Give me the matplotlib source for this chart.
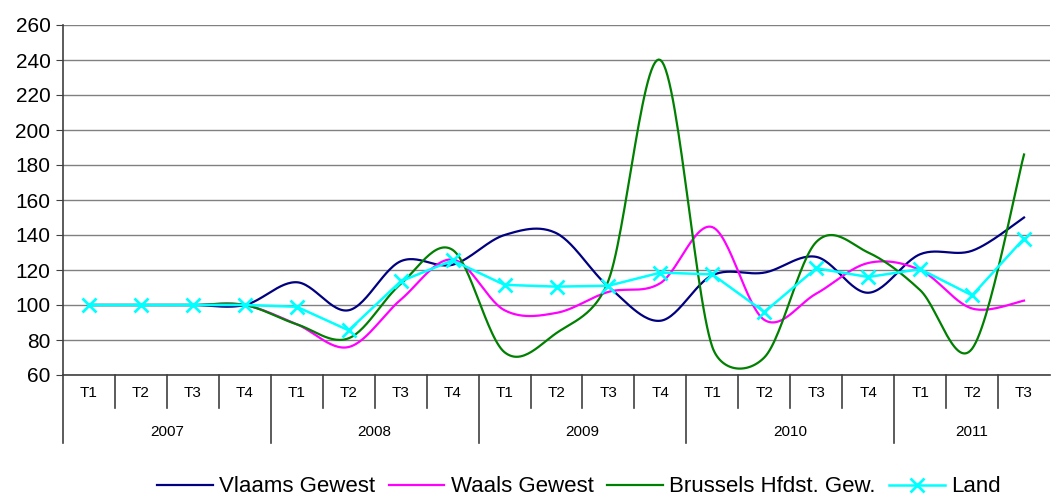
import numpy as np
import matplotlib
matplotlib.use("Agg")
import matplotlib.pyplot as plt
import matplotlib.transforms as mtransforms

plt.rcParams['font.family'] = ['Liberation Sans', 'DejaVu Sans']

years = ['2007', '2008', '2009', '2010', '2011']
quarters = ['T1', 'T2', 'T3', 'T4'] * 4 + ['T1', 'T2', 'T3']

vlaams = [100, 100, 100, 100, 113, 97, 125, 123, 140, 141, 110.5, 91,
          117, 118.5, 127.5, 107, 129, 131, 150]
waals = [100, 100, 100, 100, 89, 76, 103, 126, 97, 95.5, 107.5, 112.5,
         144.5, 91.5, 106.5, 124, 120, 98, 102.5]
brussel = [100, 100, 100, 100, 89, 81, 112, 131.5, 73, 84, 114, 240,
           76, 70, 136, 130, 108.5, 75, 186]
land = [100, 100, 100, 100, 99, 85.5, 113.5, 125.5, 111.5, 110.5, 111, 118.5,
        117.5, 96, 121, 116, 120.5, 105.5, 138]

# pixels per eenheid op het scherm (voor de afvlakking)
SX, SY = 52.0, 1.75


def smooth(y, n=30):
    # excel-achtige afgevlakte lijn: Bezier met begrensde raaklijnen
    x = np.arange(len(y), dtype=float) * SX
    y = np.asarray(y, dtype=float) * SY
    pts = np.column_stack([x, y])
    out = []
    t = np.linspace(0, 1, n)[:, None]
    for i in range(len(pts) - 1):
        p0 = pts[max(i - 1, 0)]
        p1 = pts[i]
        p2 = pts[i + 1]
        p3 = pts[min(i + 2, len(pts) - 1)]
        half = np.linalg.norm(p2 - p1) / 2
        v = (p2 - p0) / 6
        w = (p3 - p1) / 6
        if np.linalg.norm(v) > half:
            v = v / np.linalg.norm(v) * half
        if np.linalg.norm(w) > half:
            w = w / np.linalg.norm(w) * half
        c1 = p1 + v
        c2 = p2 - w
        seg = ((1 - t) ** 3 * p1 + 3 * (1 - t) ** 2 * t * c1
               + 3 * (1 - t) * t ** 2 * c2 + t ** 3 * p2)
        out.append(seg if i == 0 else seg[1:])
    out = np.vstack(out)
    return out[:, 0] / SX, out[:, 1] / SY


fig = plt.figure(figsize=(10.56, 4.97), dpi=100)
ax = fig.add_axes([63 / 1056, 1 - 375 / 497, (1050 - 63) / 1056, 350 / 497])

ax.plot(*smooth(vlaams), color='#000080', lw=1.6, label='Vlaams Gewest')
ax.plot(*smooth(waals), color='#FF00FF', lw=1.6, label='Waals Gewest')
ax.plot(*smooth(brussel), color='#008000', lw=1.6, label='Brussels Hfdst. Gew.')
ax.plot(range(len(land)), land, color='#00FFFF', lw=1.8, marker='x',
        markersize=10, markeredgewidth=2, label='Land')

ax.set_xlim(-0.5, len(quarters) - 0.5)
ax.set_ylim(60, 260)
ax.set_yticks(range(60, 261, 20))
ax.tick_params(axis='y', labelsize=15, length=5, direction='out', color='#404040', pad=4)
ax.set_xticks([])
ax.grid(axis='y', color='#808080', lw=1)
ax.set_axisbelow(True)
for s in ['top', 'right']:
    ax.spines[s].set_visible(False)
for s in ['left', 'bottom']:
    ax.spines[s].set_color('#404040')
    ax.spines[s].set_linewidth(1.2)

# categorie-tabel onder de as
trans = mtransforms.blended_transform_factory(ax.transData, ax.transAxes)
for i, q in enumerate(quarters):
    ax.text(i, -0.052, q, transform=trans, ha='center', va='center', fontsize=11)
    if i > 0:
        year_edge = i % 4 == 0
        ax.plot([i - 0.5, i - 0.5], [0, -0.194 if year_edge else -0.094],
                transform=trans, color='#404040', lw=1.2, clip_on=False)
ax.plot([-0.5, -0.5], [0, -0.194], transform=trans, color='#404040', lw=1.2, clip_on=False)
for k, yr in enumerate(years):
    start = k * 4
    end = min(start + 4, len(quarters))
    ax.text((start + end - 1) / 2, -0.163, yr, transform=trans,
            ha='center', va='center', fontsize=11)

fig.legend(loc='center', bbox_to_anchor=(579 / 1056, 1 - 487 / 497), ncol=4,
           frameon=False, fontsize=16, handlelength=2.5, handletextpad=0.3,
           columnspacing=0.6)

fig.savefig('out.png', dpi=100)
